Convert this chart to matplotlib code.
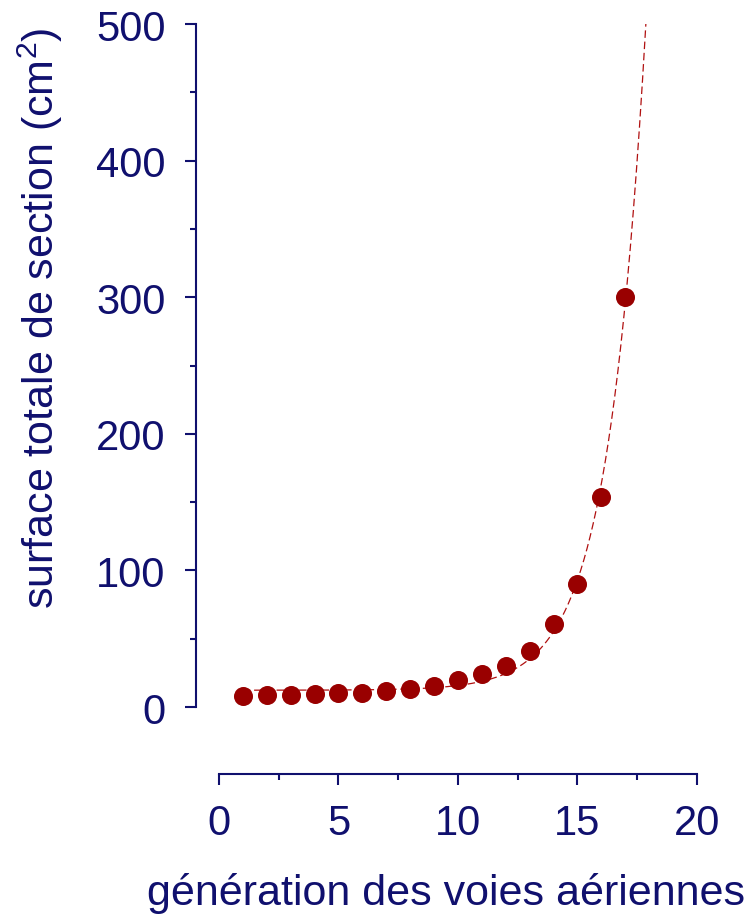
import numpy as np
import matplotlib
matplotlib.use("Agg")
import matplotlib.pyplot as plt
from matplotlib.ticker import MultipleLocator

# Data
generation = np.arange(1, 18)
surface = np.array([8, 9, 9, 9.5, 10, 10.5, 12, 13.5, 15.5, 20, 24, 30, 41, 61, 90, 154, 300])

navy = '#10106e'
red = '#990000'

plt.rcParams['font.family'] = ['Liberation Sans', 'DejaVu Sans']
plt.rcParams['mathtext.fontset'] = 'custom'
plt.rcParams['mathtext.rm'] = 'Liberation Sans'

# Exponential fit y = c + a*exp(b*x); for each b, c and a by linear least squares
best = None
for b in np.linspace(0.2, 1.0, 801):
    A = np.column_stack([np.ones_like(generation, dtype=float), np.exp(b * generation)])
    coef, *_ = np.linalg.lstsq(A, surface, rcond=None)
    err = np.sum((A @ coef - surface) ** 2)
    if best is None or err < best[0]:
        best = (err, b, coef)
_, b, (c, a) = best
xfit = np.linspace(1, 18.2, 400)
yfit = c + a * np.exp(b * xfit)

fig = plt.figure(figsize=(7.55, 9.2), dpi=100)
ax = fig.add_axes([0.2596, 0.1576, 0.673, 0.8152])

ax.plot(xfit, yfit, color='#b01010', lw=0.9, dashes=(6, 3))
ax.plot(generation, surface, 'o', color=red, markersize=13.7, markeredgewidth=0)

ax.set_xlim(-0.96, 20.3)
ax.set_ylim(-49, 500)

for s in ['top', 'right']:
    ax.spines[s].set_visible(False)
ax.spines['left'].set_bounds(0, 500)
ax.spines['bottom'].set_bounds(0, 20)
for s in ['left', 'bottom']:
    ax.spines[s].set_color(navy)
    ax.spines[s].set_linewidth(1.5)

ax.xaxis.set_major_locator(MultipleLocator(5))
ax.xaxis.set_minor_locator(MultipleLocator(2.5))
ax.yaxis.set_major_locator(MultipleLocator(100))
ax.yaxis.set_minor_locator(MultipleLocator(50))
ax.tick_params(which='major', length=8, width=1.5, color=navy, labelcolor=navy,
               labelsize=30)
ax.tick_params(which='minor', length=4, width=1.5, color=navy)
ax.tick_params(axis='y', which='major', pad=14)
ax.tick_params(axis='x', which='major', pad=13)

ax.set_ylabel(r'surface totale de section (cm$^{2}$)', fontsize=31, color=navy)
ax.set_xlabel('génération des voies aériennes', fontsize=31, color=navy)
ax.yaxis.set_label_coords(-0.258, 0.609)
ax.xaxis.set_label_coords(0.492, -0.131)

fig.savefig('out.png', dpi=100)
